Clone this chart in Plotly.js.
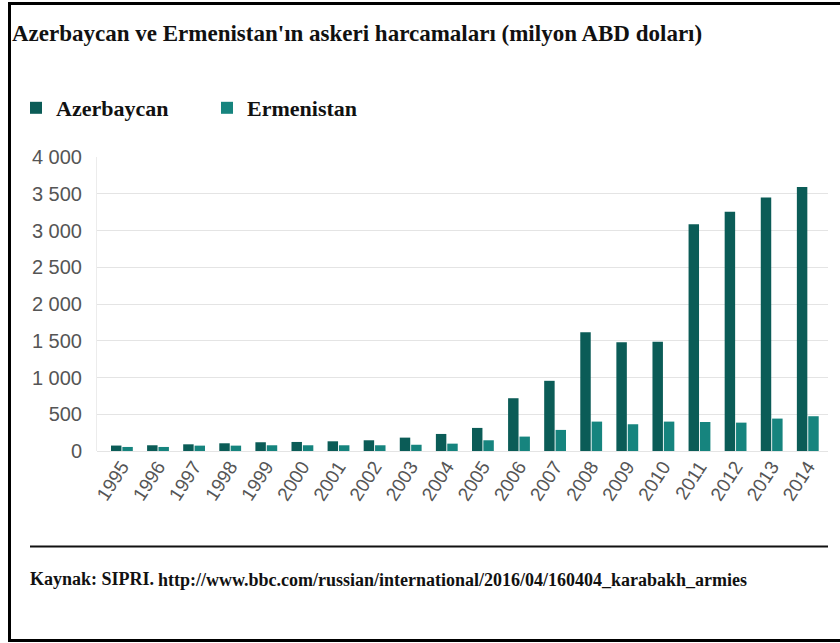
<!DOCTYPE html>
<html>
<head>
<meta charset="utf-8">
<script src="https://cdn.plot.ly/plotly-3.0.1.min.js"></script>
<style>
  html, body { margin: 0; padding: 0; background: #fff; }
  #wrap { position: relative; width: 840px; height: 643px; overflow: hidden; }
  #chart { position: absolute; left: 0; top: 0; width: 840px; height: 643px; }
  #frame { position: absolute; left: 8px; top: 2px; width: 840px; height: 640px;
           border-left: 3px solid #000; border-top: 3px solid #000; border-bottom: 3px solid #000;
           pointer-events: none; box-sizing: border-box; }
</style>
</head>
<body>
<div id="wrap">
  <div id="chart"></div>
  <div id="frame"></div>
</div>
<script>
const years = ["1995","1996","1997","1998","1999","2000","2001","2002","2003","2004",
               "2005","2006","2007","2008","2009","2010","2011","2012","2013","2014"];
const azerbaycan = [74, 78, 91, 105, 119, 123, 132, 146, 182, 232,
                    314, 718, 955, 1614, 1478, 1486, 3086, 3254, 3449, 3591];
const ermenistan = [55, 55, 73, 73, 78, 78, 78, 78, 85, 100,
                    146, 196, 287, 400, 364, 400, 395, 386, 441, 473];
const seriesNames = ["Azerbaycan", "Ermenistan"];
const titleText = "Azerbaycan ve Ermenistan'ın askeri harcamaları (milyon ABD doları)";
const sourceLabel = "Kaynak: SIPRI.";
const sourceUrl = "http://www.bbc.com/russian/international/2016/04/160404_karabakh_armies";

const W = 840, H = 643;
const M = {l: 97, r: 12, t: 157, b: 192};
const pw = W - M.l - M.r, ph = H - M.t - M.b;
const px = x => (x - M.l) / pw;
const py = y => (H - M.b - y) / ph;
const SERIF = "Liberation Serif, Times New Roman, serif";

const traces = [
  {type: "bar", name: seriesNames[0], x: years, y: azerbaycan,
   marker: {color: "#0b5c57"}, hoverinfo: "x+y"},
  {type: "bar", name: seriesNames[1], x: years, y: ermenistan,
   marker: {color: "#16847e"}, hoverinfo: "x+y"}
];

const layout = {
  width: W, height: H,
  margin: M,
  paper_bgcolor: "#fff", plot_bgcolor: "#fff",
  separators: ". ",
  barmode: "group",
  bargap: 0.37,
  bargroupgap: 0.08,
  font: {family: "Liberation Sans, Arial, sans-serif", color: "#555"},
  title: {text: titleText,
          font: {family: SERIF, size: 23, color: "#111", weight: "bold"},
          x: 12 / W, xanchor: "left", xref: "container", y: 1 - 33 / H, yref: "container", yanchor: "middle"},
  showlegend: true,
  legend: {orientation: "h", x: px(16), xanchor: "left", y: py(108), yanchor: "middle",
           font: {family: SERIF, size: 22, color: "#111", weight: "bold"},
           entrywidth: 146, traceorder: "normal", bgcolor: "rgba(0,0,0,0)"},
  xaxis: {type: "category", range: [-0.69, 19.56], tickangle: -57,
          tickfont: {size: 19, color: "#555"}, showgrid: false, zeroline: false,
          showline: false, ticks: "", fixedrange: true},
  yaxis: {range: [0, 4000], dtick: 500, tick0: 0, separatethousands: true,
          tickfont: {size: 20, color: "#555"}, gridcolor: "#e4e4e4", gridwidth: 1,
          zeroline: true, zerolinecolor: "#e4e4e4", showline: true, linecolor: "#ececec",
          ticks: "", ticklabelstandoff: 10, fixedrange: true},
  shapes: [
    {type: "line", xref: "paper", yref: "paper", x0: px(30), x1: px(828), y0: py(546.5), y1: py(546.5),
     line: {color: "#111", width: 2}}
  ],
  annotations: [
    {text: sourceLabel, xref: "paper", yref: "paper", x: px(28), y: py(579), xanchor: "left", yanchor: "middle",
     showarrow: false, font: {family: SERIF, size: 18, color: "#111", weight: "bold"}},
    {text: sourceUrl, xref: "paper", yref: "paper", x: px(156), y: py(580), xanchor: "left", yanchor: "middle",
     showarrow: false, font: {family: SERIF, size: 18, color: "#111", weight: "bold"}}
  ]
};

Plotly.newPlot("chart", traces, layout, {displayModeBar: false, staticPlot: true});
</script>
</body>
</html>
